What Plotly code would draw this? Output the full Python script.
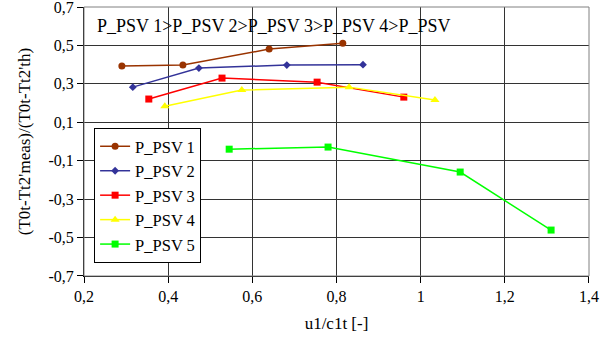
import plotly.graph_objects as go

series_names = ["P_PSV 1", "P_PSV 2", "P_PSV 3", "P_PSV 4", "P_PSV 5"]
x1 = [0.290, 0.435, 0.640, 0.815]
y1 = [0.393, 0.398, 0.481, 0.512]
x2 = [0.316, 0.473, 0.682, 0.863]
y2 = [0.283, 0.382, 0.398, 0.400]
x3 = [0.354, 0.528, 0.754, 0.960]
y3 = [0.221, 0.330, 0.309, 0.231]
x4 = [0.392, 0.575, 0.830, 1.034]
y4 = [0.184, 0.268, 0.283, 0.216]
x5 = [0.545, 0.780, 1.094, 1.310]
y5 = [-0.040, -0.029, -0.159, -0.461]

xtick_vals = [0.2, 0.4, 0.6, 0.8, 1.0, 1.2, 1.4]
xtick_text = ["0,2", "0,4", "0,6", "0,8", "1", "1,2", "1,4"]
ytick_vals = [-0.7, -0.5, -0.3, -0.1, 0.1, 0.3, 0.5, 0.7]
ytick_text = ["-0,7", "-0,5", "-0,3", "-0,1", "0,1", "0,3", "0,5", "0,7"]

colors = ["#993300", "#333399", "#FF0000", "#FFFF00", "#00FF00"]
symbols = ["circle", "diamond", "square", "triangle-up", "square"]
sizes = [7, 6, 7, 8, 7]

FONT = "Times New Roman, Liberation Serif, DejaVu Serif, serif"

fig = go.Figure()
for name, xs, ys, c, s, sz in zip(series_names, [x1, x2, x3, x4, x5], [y1, y2, y3, y4, y5], colors, symbols, sizes):
    fig.add_trace(go.Scatter(x=xs, y=ys, name=name, mode="lines+markers",
                             line=dict(color=c, width=1.5),
                             marker=dict(color=c, symbol=s, size=sz)))

fig.add_shape(type="rect", xref="paper", yref="paper", x0=0, y0=0, x1=1, y1=1,
              line=dict(color="#808080", width=1), layer="above")

fig.add_annotation(text="P_PSV 1>P_PSV 2>P_PSV 3>P_PSV 4>P_PSV", xref="paper", yref="paper",
                   x=0.022, y=0.928, xanchor="left", yanchor="middle", showarrow=False,
                   font=dict(family=FONT, size=18, color="black"))

fig.update_layout(
    width=616, height=347,
    margin=dict(l=84, r=27, t=7, b=71, autoexpand=False),
    paper_bgcolor="white", plot_bgcolor="white",
    font=dict(family=FONT, size=16, color="black"),
    showlegend=True,
    legend=dict(x=0.02, y=0.55, xanchor="left", yanchor="top",
                bgcolor="white", bordercolor="black", borderwidth=1,
                font=dict(family=FONT, size=16.5), itemwidth=30,
                tracegroupgap=0),
    xaxis=dict(range=[0.2, 1.4001], tickvals=xtick_vals, ticktext=xtick_text,
               showgrid=True, gridcolor="#333333", gridwidth=1,
               showline=True, linecolor="black", linewidth=1,
               ticks="outside", ticklen=6, tickcolor="black",
               zeroline=False, ticklabeloverflow="allow", automargin=False,
               title=dict(text="u1/c1t [-]", standoff=12, font=dict(size=17))),
    yaxis=dict(range=[-0.7001, 0.7001], tickvals=ytick_vals, ticktext=ytick_text,
               showgrid=True, gridcolor="#333333", gridwidth=1,
               showline=True, linecolor="black", linewidth=1,
               ticks="outside", ticklen=6, tickcolor="black",
               zeroline=False, ticklabeloverflow="allow", automargin=False,
               title=dict(text="(T0t-Tt2'meas)/(T0t-Tt2'th)", standoff=13, font=dict(size=17))),
)

fig.write_html("out.html")
